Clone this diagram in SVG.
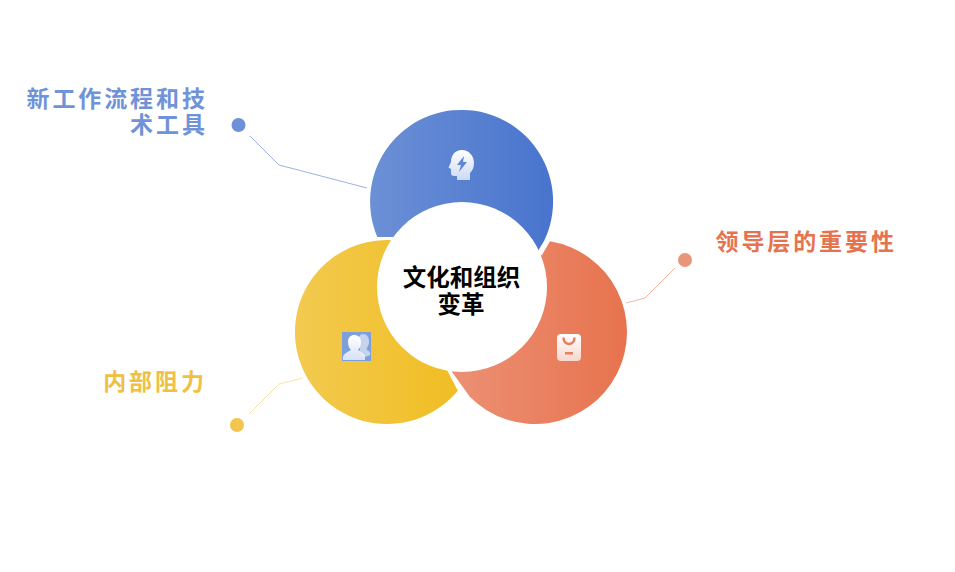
<svg xmlns="http://www.w3.org/2000/svg" width="955" height="572" viewBox="0 0 955 572">
<style>
.lbl{font-family:"Noto Sans CJK SC","Noto Sans",sans-serif;font-weight:700;font-size:23px;letter-spacing:2.900px;text-anchor:end}
.ctr{font-family:"Noto Sans CJK SC","Noto Sans",sans-serif;font-weight:700;font-size:23.500px;text-anchor:middle;fill:#000}
.ln{fill:none;stroke-width:1}
</style>
<defs>
<linearGradient id="gb" x1="0" x2="1" y1="0" y2="0"><stop offset="0" stop-color="#6c90d6"/><stop offset="1" stop-color="#4874cd"/></linearGradient>
<linearGradient id="gy" x1="0" x2="1" y1="0" y2="0"><stop offset="0" stop-color="#f3ca50"/><stop offset="1" stop-color="#f0bd22"/></linearGradient>
<linearGradient id="go" x1="0" x2="1" y1="0" y2="0"><stop offset="0" stop-color="#ec9074"/><stop offset="1" stop-color="#e7734e"/></linearGradient>
<linearGradient id="gi" x1="0" x2="0" y1="0" y2="1"><stop offset="0" stop-color="#ffffff"/><stop offset="1" stop-color="#ffffff" stop-opacity="0.7"/></linearGradient>
</defs>
<g id="connectors">
<polyline class="ln" stroke="#9db1e0" points="250,136 279,165 367,188"/>
<polyline class="ln" stroke="#f4e2ae" points="249,414 279,384 303,378"/>
<polyline class="ln" stroke="#f0b7a4" points="626,303 645,298 675,268"/>
</g>
<g id="node-blue">
<path fill="url(#gb)" d="M377.300,237A91.500,91.500 0 1 1 544.300,240.500L538,251L462,287L393,237Z"/>
<path fill="url(#gi)" d="M462,150C469,150 474,156 474,163C474,168 472,171 470,173V180H457V176H454C452,176 451,175 451,173V169L448.500,167.500L451,162C451,155 455,150 462,150Z"/>
<path fill="#5f86d4" d="M464,156L457,165H461L459,172L467,162H463Z"/>
<circle cx="238.500" cy="125" r="7" fill="#6f90d8"/>
<text class="lbl" fill="#7092d6" x="207.800" y="107">新工作流程和技</text>
<text class="lbl" fill="#7092d6" x="207.800" y="133">术工具</text>
</g>
<g id="node-yellow">
<path fill="url(#gy)" d="M390,240.050A92,92 0 1 0 457.800,390.700L447,370L462,287Z"/>
<rect x="342" y="332" width="29" height="29" fill="#7d9fdc"/>
<path fill="#fff" fill-opacity="0.55" d="M359,351C362,350 358,346 358,342C358,337 360,334 363,334C367,334 369,337 369,342C369,346 366,348 367,350C369,351 371,352 370,355C370,356 367,356 364,357Z"/>
<path fill="url(#gi)" d="M343,360C342,354 346,353 351,350C349,348 348,345 348,342C348,337 351,335 354,335C358,335 361,337 361,342C361,345 360,348 358,350C362,353 366,354 365,360Z"/>
<circle cx="237" cy="425" r="7" fill="#f2c64e"/>
<text class="lbl" fill="#efc042" x="206.800" y="390">内部阻力</text>
</g>
<g id="node-orange">
<path fill="url(#go)" d="M550,241.230A92,92 0 1 1 470,397.100L452,372L462,287L542,255Z"/>
<rect x="557" y="334" width="24" height="27" rx="4" fill="url(#gi)"/>
<path fill="none" stroke="#e8805c" stroke-width="2.500" d="M563.500,337.500C563.500,346 574.500,346 574.500,337.500"/>
<rect x="565" y="352" width="8" height="2.500" fill="#e8805c"/>
<circle cx="685" cy="260" r="7" fill="#e8957a"/>
<text class="lbl" fill="#e6734e" x="896.800" y="250">领导层的重要性</text>
</g>
<g id="node-center">
<circle cx="462" cy="287" r="85" fill="#fff"/>
<text class="ctr" x="461.500" y="285.500">文化和组织</text>
<text class="ctr" x="461" y="312.500">变革</text>
</g>
</svg>
